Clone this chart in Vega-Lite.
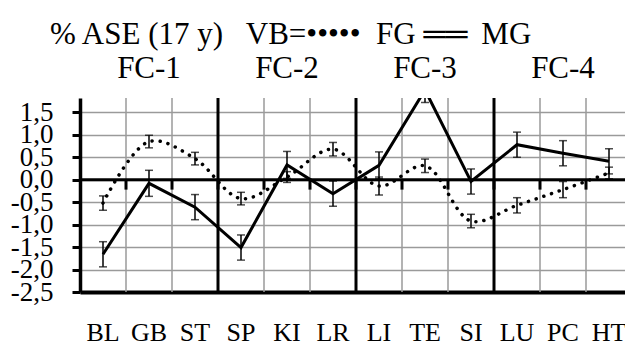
{
  "$schema": "https://vega.github.io/schema/vega-lite/v6.json",
  "width": 545,
  "height": 194,
  "autosize": {"type": "none"},
  "padding": {"left": 80, "top": 98, "right": 0, "bottom": 57},
  "background": "white",
  "title": {
    "text": "% ASE (17 y)\u00a0\u00a0 VB=•••••\u00a0 FG ══\u2009 MG",
    "anchor": "start",
    "frame": "group",
    "font": "Liberation Serif",
    "fontSize": 31,
    "fontWeight": "normal",
    "color": "black",
    "baseline": "alphabetic",
    "dx": -30,
    "dy": 23,
    "offset": 0
  },
  "datasets": {
    "ase": [
      {"code": "BL", "series": "FG", "value": -0.52, "err": 0.16},
      {"code": "GB", "series": "FG", "value": 0.85, "err": 0.14},
      {"code": "ST", "series": "FG", "value": 0.47, "err": 0.14},
      {"code": "SP", "series": "FG", "value": -0.42, "err": 0.14},
      {"code": "KI", "series": "FG", "value": 0.06, "err": 0.12},
      {"code": "LR", "series": "FG", "value": 0.68, "err": 0.15},
      {"code": "LI", "series": "FG", "value": -0.14, "err": 0.2},
      {"code": "TE", "series": "FG", "value": 0.31, "err": 0.15},
      {"code": "SI", "series": "FG", "value": -0.92, "err": 0.15},
      {"code": "LU", "series": "FG", "value": -0.57, "err": 0.17},
      {"code": "PC", "series": "FG", "value": -0.22, "err": 0.18},
      {"code": "HT", "series": "FG", "value": 0.15, "err": 0.13},
      {"code": "BL", "series": "MG", "value": -1.66, "err": 0.28},
      {"code": "GB", "series": "MG", "value": -0.08, "err": 0.29},
      {"code": "ST", "series": "MG", "value": -0.61, "err": 0.28},
      {"code": "SP", "series": "MG", "value": -1.51, "err": 0.28},
      {"code": "KI", "series": "MG", "value": 0.33, "err": 0.3},
      {"code": "LR", "series": "MG", "value": -0.31, "err": 0.28},
      {"code": "LI", "series": "MG", "value": 0.32, "err": 0.3},
      {"code": "TE", "series": "MG", "value": 2.0, "err": 0.28},
      {"code": "SI", "series": "MG", "value": -0.04, "err": 0.28},
      {"code": "LU", "series": "MG", "value": 0.78, "err": 0.28},
      {"code": "PC", "series": "MG", "value": 0.59, "err": 0.28},
      {"code": "HT", "series": "MG", "value": 0.41, "err": 0.28}
    ],
    "blocks": [
      {"block": "FC-1", "first": "BL"},
      {"block": "FC-2", "first": "SP"},
      {"block": "FC-3", "first": "LI"},
      {"block": "FC-4", "first": "LU"}
    ]
  },
  "data": {"name": "ase"},
  "resolve": {"axis": {"x": "independent"}},
  "layer": [
    {
      "transform": [{"filter": "datum.series == 'MG' && datum.code != 'BL'"}],
      "mark": {"type": "rule", "color": "#9a9a9a", "strokeWidth": 1.5},
      "encoding": {
        "x": {"field": "code", "type": "nominal", "bandPosition": 0, "axis": null,
              "scale": {"domain": ["BL","GB","ST","SP","KI","LR","LI","TE","SI","LU","PC","HT"], "paddingInner": 0, "paddingOuter": 0, "range": [0, 552]}}
      }
    },
    {
      "data": {"name": "blocks"},
      "transform": [{"filter": "datum.first != 'BL'"}],
      "mark": {"type": "rule", "color": "black", "strokeWidth": 3},
      "encoding": {
        "x": {"field": "first", "type": "nominal", "bandPosition": 0, "axis": null,
              "scale": {"domain": ["BL","GB","ST","SP","KI","LR","LI","TE","SI","LU","PC","HT"], "paddingInner": 0, "paddingOuter": 0, "range": [0, 552]}}
      }
    },
    {
      "data": {"values": [{"level": 0}]},
      "mark": {"type": "rule", "color": "black", "strokeWidth": 3},
      "encoding": {
        "y": {"field": "level", "type": "quantitative", "title": null,
              "scale": {"domain": [-2.5, 1.82], "nice": false, "zero": false},
              "axis": {"title": null, "values": [-2.5, -2, -1.5, -1, -0.5, 0, 0.5, 1, 1.5], "tickCount": 9}}
      }
    },
    {
      "transform": [{"filter": "datum.series == 'MG' && datum.code != 'BL'"}],
      "mark": {"type": "rule", "color": "black", "strokeWidth": 3},
      "encoding": {
        "x": {"field": "code", "type": "nominal", "bandPosition": 0,
              "scale": {"domain": ["BL","GB","ST","SP","KI","LR","LI","TE","SI","LU","PC","HT"], "paddingInner": 0, "paddingOuter": 0, "range": [0, 552]},
              "axis": {"orient": "top", "title": null, "grid": false, "domain": false, "ticks": false, "tickSize": 0,
                       "labelFont": "Liberation Serif", "labelFontSize": 31, "labelColor": "black", "labelAngle": 0,
                       "labelBaseline": "alphabetic", "labelPadding": 21, "labelOverlap": false,
                       "labelExpr": "datum.value == 'GB' ? 'FC-1' : datum.value == 'KI' ? 'FC-2' : datum.value == 'TE' ? 'FC-3' : datum.value == 'PC' ? 'FC-4' : ''"}},
        "y": {"datum": 0},
        "y2": {"datum": -0.22}
      }
    },
    {
      "transform": [{"filter": "datum.series == 'FG'"}],
      "mark": {"type": "line", "color": "black", "strokeWidth": 3.5, "strokeDash": [0.1, 8], "strokeCap": "round", "interpolate": "catmull-rom", "clip": true},
      "encoding": {
        "x": {"field": "code", "type": "nominal", "axis": null,
              "scale": {"domain": ["BL","GB","ST","SP","KI","LR","LI","TE","SI","LU","PC","HT"], "paddingInner": 0, "paddingOuter": 0, "range": [0, 552]}},
        "y": {"field": "value", "type": "quantitative", "title": null,
              "axis": {"title": null, "values": [-2.5, -2, -1.5, -1, -0.5, 0, 0.5, 1, 1.5], "tickCount": 9}}
      }
    },
    {
      "transform": [{"filter": "datum.series == 'MG'"}],
      "mark": {"type": "line", "color": "black", "strokeWidth": 3, "clip": true},
      "encoding": {
        "x": {"field": "code", "type": "nominal",
              "scale": {"domain": ["BL","GB","ST","SP","KI","LR","LI","TE","SI","LU","PC","HT"], "paddingInner": 0, "paddingOuter": 0, "range": [0, 552]},
              "axis": {"orient": "bottom", "title": null, "grid": false, "ticks": false, "tickSize": 0,
                       "domain": true, "domainColor": "black", "domainWidth": 4,
                       "labelFont": "Liberation Serif", "labelFontSize": 26, "labelColor": "black", "labelAngle": 0,
                       "labelPadding": 27, "labelOverlap": false}},
        "y": {"field": "value", "type": "quantitative", "title": null,
              "axis": {"title": null, "values": [-2.5, -2, -1.5, -1, -0.5, 0, 0.5, 1, 1.5], "tickCount": 9}}
      }
    },
    {
      "mark": {"type": "errorbar", "color": "black", "thickness": 1.5, "ticks": {"size": 8, "thickness": 1.5, "color": "black"}, "clip": true},
      "encoding": {
        "x": {"field": "code", "type": "nominal", "axis": null,
              "scale": {"domain": ["BL","GB","ST","SP","KI","LR","LI","TE","SI","LU","PC","HT"], "paddingInner": 0, "paddingOuter": 0, "range": [0, 552]}},
        "y": {"field": "value", "type": "quantitative", "title": null,
              "axis": {"title": null, "values": [-2.5, -2, -1.5, -1, -0.5, 0, 0.5, 1, 1.5], "tickCount": 9}},
        "yError": {"field": "err"}
      }
    }
  ],
  "config": {
    "view": {"stroke": null},
    "font": "Liberation Serif",
    "axisY": {
      "grid": true, "gridColor": "#9a9a9a", "gridWidth": 1.5,
      "domainColor": "black", "domainWidth": 3.5,
      "tickColor": "black", "tickWidth": 3, "tickSize": 8,
      "labelFont": "Liberation Serif", "labelFontSize": 27, "labelColor": "black",
      "labelPadding": 19, "labelOverlap": false, "labelFlush": false,
      "labelExpr": "(datum.value < 0 ? '-' : '') + replace(format(abs(datum.value), '.1f'), '.', ',')"
    }
  }
}
